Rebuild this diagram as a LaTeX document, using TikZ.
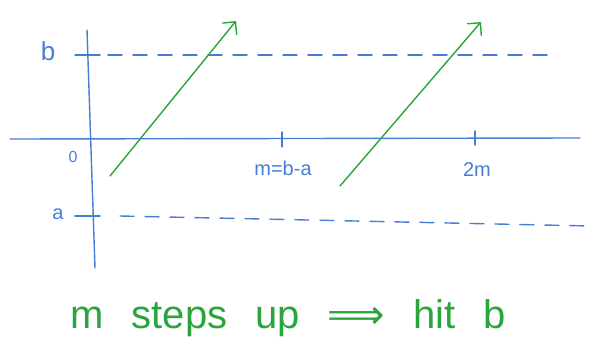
\documentclass[tikz,border=0pt]{standalone}
\usepackage{fontspec}
\setmainfont{Liberation Sans}
\newfontfamily\symfont{DejaVu Sans}
\usetikzlibrary{arrows.meta,positioning}
\definecolor{penblue}{RGB}{70,125,215}
\definecolor{pengreen}{RGB}{40,165,60}

\begin{document}
\begin{tikzpicture}[
  x=1pt, y=-1pt,
  axis/.style={draw=penblue, line width=1.4pt, line cap=round},
  level/.style={draw=penblue, line width=1.4pt, line cap=round, dash pattern=on 14pt off 11pt},
  climb/.style={draw=pengreen, line width=1.4pt, line cap=round, -{Straight Barb[length=9pt,width=18pt,line cap=round]}},
  lbl/.style={text=penblue, font=\fontsize{20}{22}\selectfont, inner sep=0pt},
  note/.style={text=pengreen, font=\fontsize{40}{44}\selectfont, inner sep=0pt}
]
\useasboundingbox (0,0) rectangle (593,345);
\coordinate (xl) at (10,139);
\coordinate (xr) at (580,138);
\coordinate (yt) at (87,30);
\coordinate (yb) at (95,268);
\coordinate (bl) at (75,55);
\coordinate (br) at (557,55);
\coordinate (al) at (75,216);
\coordinate (ar) at (590,226);
\coordinate (tm) at (282,139);
\coordinate (t2m) at (475,138);
\coordinate (s1) at (110,176);
\coordinate (e1) at (236,21);
\coordinate (s2) at (340,186);
\coordinate (e2) at (481,22);

\draw[axis] (xl) -- (xr);
\draw[axis] (yt) -- (yb);
\draw[axis] (bl) -- ++(25,0);
\draw[axis] (al) -- ++(25,0);
\draw[level] ([xshift=33pt]bl) -- (br);
\draw[level] ([xshift=45pt]al) -- (ar);
\draw[axis] ([yshift=7pt]tm) -- ([yshift=-8pt]tm);
\draw[axis] ([yshift=7pt]t2m) -- ([yshift=-7pt]t2m);

\node[lbl, font=\fontsize{26}{28}\selectfont] (lb) at (48,51) {b};
\node[lbl, font=\fontsize{16}{18}\selectfont] (lo) at (73,157) {0};
\node[lbl] (la) at (58,214) {a};
\node[lbl] (lm) at (283,168) {m=b-a};
\node[lbl] (l2m) at (477,170) {2m};

\draw[climb] (s1) -- (e1);
\draw[climb] (s2) -- (e2);

\node[note] (claim) at (288,318) {\spaceskip=0.7em m steps up {\symfont ⟹} hit b};
\end{tikzpicture}
\end{document}
